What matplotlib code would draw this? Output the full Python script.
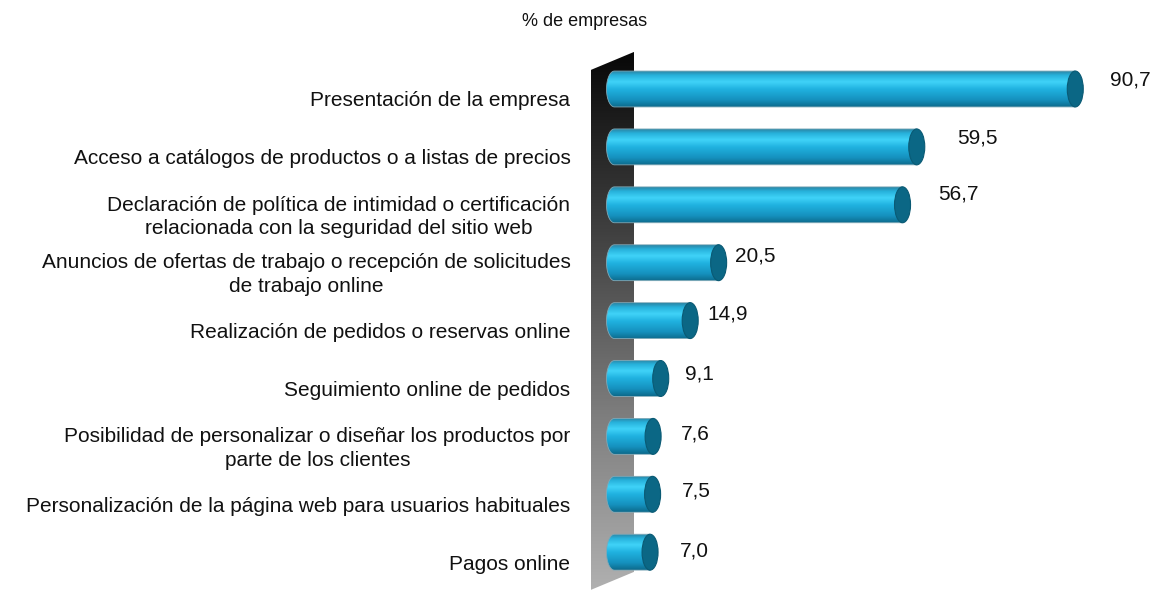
import numpy as np
import matplotlib
matplotlib.use("Agg")
import matplotlib.pyplot as plt
from matplotlib.path import Path
from matplotlib.patches import PathPatch, Ellipse, Polygon
from matplotlib.colors import LinearSegmentedColormap

# data
categories = [
    "Presentación de la empresa",
    "Acceso a catálogos de productos o a listas de precios",
    "Declaración de política de intimidad o certificación\nrelacionada con la seguridad del sitio web",
    "Anuncios de ofertas de trabajo o recepción de solicitudes\nde trabajo online",
    "Realización de pedidos o reservas online",
    "Seguimiento online de pedidos",
    "Posibilidad de personalizar o diseñar los productos por\nparte de los clientes",
    "Personalización de la página web para usuarios habituales",
    "Pagos online",
]
values = [90.7, 59.5, 56.7, 20.5, 14.9, 9.1, 7.6, 7.5, 7.0]
value_labels = ["90,7", "59,5", "56,7", "20,5", "14,9", "9,1", "7,6", "7,5", "7,0"]
title = "% de empresas"

# small nudges for the value labels (pixels), like the original layout
lab_dx = [27, 32, 28, 8, 9, 16, 20, 21, 22]
lab_dy = [9, 9, 11, 7, 7, 4, 2, 3, 1]

plt.rcParams["font.family"] = ["Liberation Sans", "DejaVu Sans"]

fig = plt.figure(figsize=(11.6, 5.9), dpi=100)
ax = fig.add_axes([0, 0, 1, 1])
ax.set_xlim(-120.96, 107.38)
ax.set_ylim(8.653, -1.537)
ax.axis("off")

# back wall with vertical gradient
wall = Polygon([(-4.63, -0.33), (3.84, -0.64), (3.84, 8.34), (-4.63, 8.65)],
               closed=True, facecolor="none", edgecolor="none")
ax.add_patch(wall)
wall_cmap = LinearSegmentedColormap.from_list("wall", ["#080808", "#404040", "#7c7c7c", "#b0b0b0"])
grad = np.linspace(0, 1, 256).reshape(-1, 1)
im = ax.imshow(grad, cmap=wall_cmap, aspect="auto", extent=[-4.63, 3.84, 8.65, -0.64],
               origin="upper", zorder=1)
im.set_clip_path(wall)

# cylinder bars
bar_cmap = LinearSegmentedColormap.from_list(
    "cyl", [(0, "#2a86a6"), (0.12, "#27b2dc"), (0.3, "#40d3f8"),
            (0.5, "#20b2e0"), (0.8, "#1591be"), (1.0, "#0d6a8b")])
h = 0.62
ew = 3.15
t = np.linspace(np.pi / 2, 3 * np.pi / 2, 40)
for i, v in enumerate(values):
    xs = list(ew / 2 * np.cos(t)) + [v, v]
    ys = list(i - h / 2 * np.sin(t)) + [i + h / 2, i - h / 2]
    verts = list(zip(xs, ys)) + [(xs[0], ys[0])]
    codes = [Path.MOVETO] + [Path.LINETO] * (len(verts) - 2) + [Path.CLOSEPOLY]
    body = PathPatch(Path(verts, codes), facecolor="none", edgecolor="#7fa9b8", lw=0.6, zorder=3)
    ax.add_patch(body)
    bim = ax.imshow(grad, cmap=bar_cmap, aspect="auto",
                    extent=[-ew / 2, v, i + h / 2, i - h / 2], origin="upper", zorder=2)
    bim.set_clip_path(body)
    cap = Ellipse((v, i), ew, h, facecolor="#0b6785", edgecolor="#0a5a74", lw=0.8, zorder=4)
    ax.add_patch(cap)

    ax.annotate(value_labels[i], xy=(v, i), xytext=(8 + lab_dx[i], lab_dy[i]),
                textcoords="offset pixels", ha="left", va="center", fontsize=15, color="#111111")
    ax.annotate(categories[i], xy=(0, i), xytext=(-44, -12), textcoords="offset pixels",
                ha="right", va="center", multialignment="center", fontsize=15,
                color="#111111", linespacing=1.3)

fig.text(585 / 1160, 1 - 22 / 590, title, ha="center", va="center", fontsize=13, color="#111111")

fig.savefig("out.png", dpi=100)
